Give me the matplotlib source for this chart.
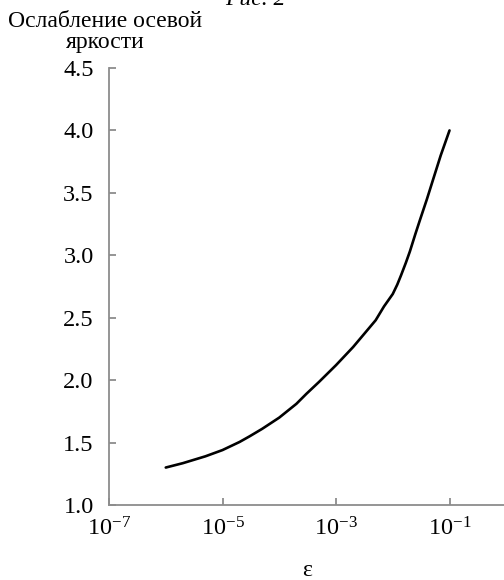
import matplotlib.pyplot as plt

plt.rcParams['font.family'] = ['Liberation Serif', 'DejaVu Serif']
plt.rcParams['mathtext.fontset'] = 'custom'
plt.rcParams['mathtext.rm'] = 'Liberation Serif'

# Ослабление осевой яркости в зависимости от ε
eps = [1e-6, 2e-6, 5e-6, 1e-5, 2e-5, 3e-5, 5e-5, 1e-4, 2e-4, 3e-4, 5e-4,
       1e-3, 2e-3, 3e-3, 5e-3, 7e-3, 1e-2, 1.2e-2, 1.4e-2, 1.7e-2, 2e-2,
       2.5e-2, 3e-2, 4e-2, 5e-2, 7e-2, 1e-1]
attenuation = [1.300, 1.335, 1.390, 1.440, 1.505, 1.550, 1.610, 1.700, 1.810, 1.890, 1.985,
               2.120, 2.265, 2.360, 2.480, 2.590, 2.690, 2.765, 2.840, 2.940, 3.030,
               3.170, 3.280, 3.450, 3.590, 3.800, 4.000]

x_ticks = [1e-7, 1e-5, 1e-3, 1e-1]
x_labels = [r'$\mathregular{10^{-7}}$', r'$\mathregular{10^{-5}}$',
            r'$\mathregular{10^{-3}}$', r'$\mathregular{10^{-1}}$']
y_ticks = [1.0, 1.5, 2.0, 2.5, 3.0, 3.5, 4.0, 4.5]

fig = plt.figure(figsize=(5.04, 5.8), dpi=100)
ax = fig.add_axes([109 / 504, 1 - 505 / 580, 1 - 109 / 504, (505 - 68) / 580])

ax.plot(eps, attenuation, color='black', linewidth=1.9,
        solid_joinstyle='round', solid_capstyle='round')

ax.set_xscale('log')
ax.set_xlim(1e-7, 10 ** -0.04)
ax.set_ylim(1.0, 4.5)
ax.set_xticks(x_ticks)
ax.set_xticklabels(x_labels)
ax.minorticks_off()
ax.set_yticks(y_ticks)
ax.set_yticklabels([f'{v:.1f}' for v in y_ticks])

for side in ('top', 'right'):
    ax.spines[side].set_visible(False)
for side in ('left', 'bottom'):
    ax.spines[side].set_color('#8c8c8c')
    ax.spines[side].set_linewidth(1.3)

ax.tick_params(axis='both', direction='in', length=5, width=1.3, color='#8c8c8c',
               labelsize=17.5, labelcolor='black')
ax.tick_params(axis='y', pad=11)
ax.tick_params(axis='x', pad=9)

fig.text(105 / 504, 1 - 11 / 580, 'Ослабление осевой\nяркости', ha='center', va='top',
         fontsize=17, linespacing=1.0)
fig.text(307 / 504, 1 - 571 / 580, 'ε', ha='center', va='center', fontsize=17)
fig.text(255 / 504, 1 - 5 / 580, 'Рис. 2', ha='center', va='baseline', fontsize=17,
         style='italic')

fig.savefig('out.png', dpi=100)
